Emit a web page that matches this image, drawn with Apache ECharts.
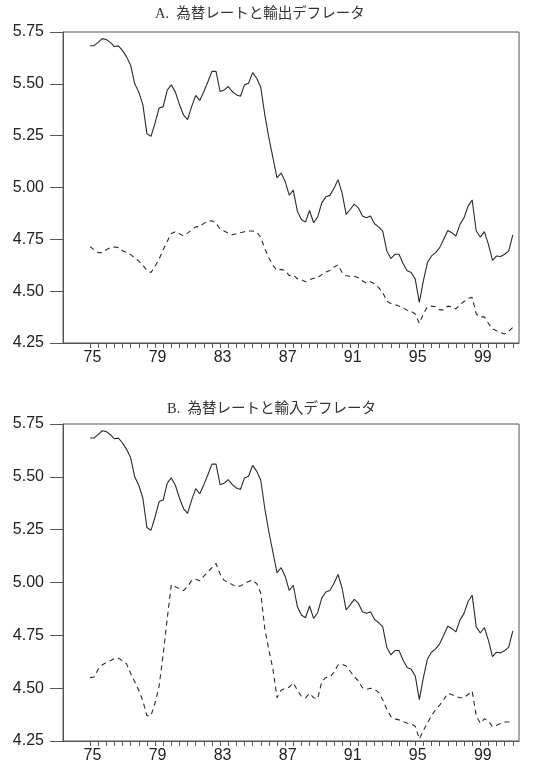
<!DOCTYPE html>
<html>
<head>
<meta charset="utf-8">
<script src="https://cdn.jsdelivr.net/npm/echarts@6/dist/echarts.min.js"></script>
<style>
  html, body { margin: 0; padding: 0; background: #fff; }
  #chart { width: 538px; height: 768px; }
</style>
</head>
<body>
<div id="chart"></div>
<script>
// 四半期データ 1975Q1 から
const startYear = 1975
// 為替レート (対数)
const exchangeRate = [
  5.684, 5.684, 5.70, 5.718, 5.714, 5.70, 5.68, 5.683, 5.66, 5.63,
  5.59, 5.50, 5.46, 5.40, 5.26, 5.247, 5.31, 5.383, 5.39, 5.47,
  5.495, 5.46, 5.40, 5.35, 5.327, 5.39, 5.444, 5.42, 5.463, 5.51,
  5.56, 5.56, 5.463, 5.47, 5.487, 5.463, 5.447, 5.44, 5.495, 5.503,
  5.554, 5.527, 5.484, 5.35, 5.239, 5.143, 5.046, 5.07, 5.03, 4.963,
  4.987, 4.886, 4.846, 4.833, 4.889, 4.83, 4.857, 4.926, 4.955, 4.962,
  4.995, 5.038, 4.974, 4.87, 4.894, 4.92, 4.902, 4.862, 4.854, 4.862,
  4.825, 4.81, 4.79, 4.694, 4.657, 4.678, 4.678, 4.633, 4.598, 4.59,
  4.558, 4.446, 4.55, 4.638, 4.67, 4.686, 4.71, 4.75, 4.793, 4.782,
  4.766, 4.822, 4.854, 4.91, 4.94, 4.79, 4.761, 4.787, 4.726, 4.649,
  4.67, 4.667, 4.678, 4.694, 4.771
]
// 輸出デフレータ (対数)
const exportDeflator = [
  4.715, 4.70, 4.686, 4.685, 4.70, 4.71, 4.713, 4.71, 4.695, 4.686,
  4.676, 4.66, 4.645, 4.625, 4.60, 4.59, 4.62, 4.655, 4.70, 4.74,
  4.778, 4.787, 4.777, 4.766, 4.78, 4.795, 4.81, 4.812, 4.827, 4.838,
  4.84, 4.827, 4.80, 4.79, 4.78, 4.772, 4.777, 4.782, 4.787, 4.79,
  4.79, 4.785, 4.76, 4.705, 4.66, 4.625, 4.60, 4.605, 4.60, 4.575,
  4.578, 4.56, 4.556, 4.545, 4.555, 4.562, 4.565, 4.58, 4.592, 4.60,
  4.615, 4.627, 4.59, 4.574, 4.572, 4.572, 4.565, 4.55, 4.538, 4.545,
  4.535, 4.517, 4.494, 4.452, 4.441, 4.435, 4.428, 4.42, 4.408, 4.402,
  4.39, 4.345, 4.39, 4.425, 4.428, 4.425, 4.41, 4.41, 4.428, 4.425,
  4.414, 4.435, 4.45, 4.465, 4.47, 4.39, 4.376, 4.376, 4.345, 4.318,
  4.309, 4.301, 4.293, 4.306, 4.325
]
// 輸入デフレータ (対数)
const importDeflator = [
  4.55, 4.553, 4.59, 4.61, 4.622, 4.63, 4.64, 4.642, 4.63, 4.615,
  4.57, 4.53, 4.49, 4.44, 4.37, 4.37, 4.43, 4.51, 4.66, 4.83,
  4.99, 4.98, 4.97, 4.962, 4.98, 5.01, 5.015, 5.008, 5.03, 5.05,
  5.07, 5.09, 5.04, 5.01, 5.0, 4.99, 4.98, 4.984, 4.995, 5.005,
  5.011, 4.995, 4.95, 4.78, 4.68, 4.59, 4.455, 4.49, 4.50, 4.505,
  4.525, 4.49, 4.462, 4.454, 4.475, 4.455, 4.45, 4.53, 4.55, 4.553,
  4.575, 4.61, 4.613, 4.605, 4.58, 4.555, 4.535, 4.502, 4.494, 4.50,
  4.495, 4.48, 4.445, 4.40, 4.366, 4.355, 4.35, 4.342, 4.335, 4.33,
  4.32, 4.26, 4.30, 4.335, 4.37, 4.398, 4.42, 4.445, 4.475, 4.47,
  4.46, 4.455, 4.455, 4.47, 4.486, 4.37, 4.334, 4.355, 4.345, 4.318,
  4.324, 4.333, 4.34, 4.34, 4.34
]
// 目盛り
const yearLabels = [1975, 1979, 1983, 1987, 1991, 1995, 1999]
const panelTitles = ['A.  為替レートと輸出デフレータ', 'B.  為替レートと輸入デフレータ']

// 四半期を年の位置に変換
function toPoints(values) {
  return values.map(function (v, i) { return [startYear + i / 4, v] })
}
const halfYearTicks = []
for (let y = 1975; y <= 2001; y += 0.5) halfYearTicks.push(y)

const axisColor = '#555'
const lineColor = '#2b2b2b'

function makeXAxis(gridIndex) {
  return {
    type: 'value',
    gridIndex: gridIndex,
    min: 1973.34,
    max: 2001.38,
    axisLine: { lineStyle: { color: axisColor, width: 1 } },
    axisTick: { show: true, customValues: halfYearTicks, length: 5, lineStyle: { color: axisColor } },
    axisLabel: {
      customValues: yearLabels,
      formatter: function (v) { return String(Math.round(v)).slice(2) },
      fontFamily: 'Liberation Sans, Arial, sans-serif',
      fontSize: 16,
      color: '#222',
      margin: 7,
      padding: [0, 0, 0, 5]
    },
    splitLine: { show: false }
  }
}
function makeYAxis(gridIndex) {
  return {
    type: 'value',
    gridIndex: gridIndex,
    min: 4.25,
    max: 5.75,
    interval: 0.25,
    axisLine: { show: true, lineStyle: { color: axisColor, width: 1 } },
    axisTick: { show: true, length: 13, lineStyle: { color: axisColor } },
    axisLabel: {
      formatter: function (v) { return v.toFixed(2) },
      fontFamily: 'Liberation Sans, Arial, sans-serif',
      fontSize: 16,
      color: '#222',
      margin: 19
    },
    splitLine: { show: false }
  }
}
function makeSeries(data, axisIndex, dashed) {
  return {
    type: 'line',
    xAxisIndex: axisIndex,
    yAxisIndex: axisIndex,
    data: toPoints(data),
    showSymbol: false,
    symbol: 'none',
    silent: true,
    lineStyle: { color: lineColor, width: 1.1, type: dashed ? [5, 4] : 'solid' }
  }
}

const chart = echarts.init(document.getElementById('chart'), null, { renderer: 'canvas' })
const titleStyle = {
  fontFamily: "'Liberation Serif', 'Noto Sans CJK JP', serif",
  fontWeight: 'normal',
  fontSize: 14.5,
  color: '#333'
}
chart.setOption({
  backgroundColor: '#fff',
  animation: false,
  title: [
    { text: panelTitles[0], left: 155, top: 7, padding: 0, textStyle: titleStyle },
    { text: panelTitles[1], left: 167, top: 402, padding: 0, textStyle: titleStyle }
  ],
  grid: [
    { left: 63, right: 19, top: 32, height: 311, show: true, borderColor: axisColor, borderWidth: 1 },
    { left: 63, right: 19, top: 424, height: 317, show: true, borderColor: axisColor, borderWidth: 1 }
  ],
  xAxis: [makeXAxis(0), makeXAxis(1)],
  yAxis: [makeYAxis(0), makeYAxis(1)],
  series: [
    makeSeries(exchangeRate, 0, false),
    makeSeries(exportDeflator, 0, true),
    makeSeries(exchangeRate, 1, false),
    makeSeries(importDeflator, 1, true)
  ]
})
</script>
</body>
</html>
